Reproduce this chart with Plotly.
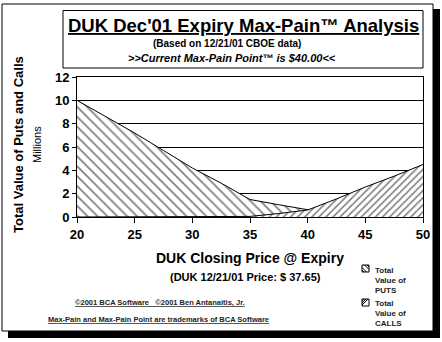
import plotly.graph_objects as go

# ---- data (millions) ----
strikes = [20, 22.5, 25, 27.5, 30, 32.5, 35, 37.5, 40, 42.5, 45, 47.5, 50]
puts_value = [10.0, 8.6, 7.2, 5.7, 4.2, 2.9, 1.5, 1.05, 0.65, 0.2, 0.0, 0.0, 0.0]
calls_value = [0.0, 0.0, 0.0, 0.0, 0.0, 0.0, 0.05, 0.3, 0.6, 1.55, 2.57, 3.5, 4.5]
y_ticks = [0, 2, 4, 6, 8, 10, 12]
x_ticks = [20, 25, 30, 35, 40, 45, 50]

W, H = 442, 342
L, R, T, B = 77, 19, 77, 125
PW, PH = W - L - R, H - T - B

def px(x):
    return (x - L) / PW

def py(y):
    return (H - B - y) / PH

FONT = "Liberation Sans, Arial, sans-serif"

fig = go.Figure()
fig.add_trace(go.Scatter(
    x=strikes, y=puts_value, mode="lines", fill="tozeroy",
    line=dict(color="black", width=1),
    fillpattern=dict(shape="\\", size=7, solidity=0.24, fgcolor="black", bgcolor="white"),
    fillcolor="white", name="Total Value of PUTS", showlegend=False))
fig.add_trace(go.Scatter(
    x=strikes, y=calls_value, mode="lines", fill="tozeroy",
    line=dict(color="black", width=1),
    fillpattern=dict(shape="/", size=5, solidity=0.32, fgcolor="black", bgcolor="white"),
    fillcolor="white", name="Total Value of CALLS", showlegend=False))

shapes = []
# outer frame shadow + border
shapes.append(dict(type="rect", xref="paper", yref="paper", layer="below",
                   x0=px(8), x1=px(440), y0=py(338), y1=py(9),
                   fillcolor="black", line=dict(width=0)))
shapes.append(dict(type="rect", xref="paper", yref="paper", layer="below",
                   x0=px(2), x1=px(433), y0=py(331), y1=py(4),
                   fillcolor="white", line=dict(color="black", width=1)))
# title box
shapes.append(dict(type="rect", xref="paper", yref="paper", layer="below",
                   x0=px(63), x1=px(423), y0=py(68), y1=py(10.5),
                   fillcolor="white", line=dict(color="black", width=1)))

# legend swatches (manual)
def swatch(x0, y0, s, kind):
    shapes.append(dict(type="rect", xref="paper", yref="paper",
                       x0=px(x0), x1=px(x0 + s), y0=py(y0 + s), y1=py(y0),
                       fillcolor="white", line=dict(color="black", width=1)))
    offs = [2.5, 5.0] if kind == "puts" else [2.0, 4.0, 6.0]
    for o in offs:
        if kind == "puts":
            shapes.append(dict(type="line", xref="paper", yref="paper",
                               x0=px(x0 + o), y0=py(y0), x1=px(x0 + s), y1=py(y0 + s - o),
                               line=dict(color="black", width=1)))
            shapes.append(dict(type="line", xref="paper", yref="paper",
                               x0=px(x0), y0=py(y0 + o), x1=px(x0 + s - o), y1=py(y0 + s),
                               line=dict(color="black", width=1)))
        else:
            shapes.append(dict(type="line", xref="paper", yref="paper",
                               x0=px(x0), y0=py(y0 + o), x1=px(x0 + o), y1=py(y0),
                               line=dict(color="black", width=1)))

swatch(362, 265, 7, "puts")
swatch(362, 299, 7, "calls")

ann = []
def text(x, y, s, size, bold=True, italic=False, angle=0, xanchor="center", color="black"):
    t = s
    if italic:
        t = "<i>" + t + "</i>"
    ann.append(dict(xref="paper", yref="paper", x=px(x), y=py(y), text=t,
                    showarrow=False, xanchor=xanchor, yanchor="middle", textangle=angle,
                    font=dict(family=FONT, size=size, color=color,
                              weight="bold" if bold else "normal")))

text(243, 25, "<u>DUK Dec'01 Expiry Max-Pain™ Analysis</u>", 18.5)
text(227, 43.5, "(Based on 12/21/01 CBOE data)", 10)
text(232, 58, ">>Current Max-Pain Point™ is $40.00<<", 11, italic=True)
text(18, 145, "Total Value of Puts and Calls", 13, angle=-90)
text(37, 145, "Millions", 11, bold=False, angle=-90)
text(250, 258, "DUK Closing Price @ Expiry", 14)
text(245, 277, "(DUK 12/21/01 Price: $ 37.65)", 11)
text(160, 302, "<u>©2001 BCA Software   ©2001 Ben Antanaitis, Jr.</u>", 7.5, color="#222")
text(158, 319, "<u>Max-Pain and Max-Pain Point are trademarks of BCA Software</u>", 7.5, color="#222")
for i, line in enumerate(["Total", "Value of", "PUTS"]):
    text(373, 270 + i * 10, line, 8, xanchor="left", color="#222")
for i, line in enumerate(["Total", "Value of", "CALLS"]):
    text(373, 303 + i * 10, line, 8, xanchor="left", color="#222")

fig.update_layout(
    width=W, height=H, autosize=False,
    margin=dict(l=L, r=R, t=T, b=B),
    paper_bgcolor="white", plot_bgcolor="white",
    shapes=shapes, annotations=ann, showlegend=False,
    xaxis=dict(range=[20, 50], tickvals=x_ticks, ticktext=[str(v) for v in x_ticks],
               showgrid=False, zeroline=False, showline=True, linecolor="black", linewidth=1,
               mirror=True, ticks="outside", ticklen=5, tickcolor="black",
               tickfont=dict(family=FONT, size=13, color="black", weight="bold")),
    yaxis=dict(range=[0, 12], tickvals=y_ticks, ticktext=[str(v) for v in y_ticks],
               showgrid=True, gridcolor="black", gridwidth=1, zeroline=False,
               showline=True, linecolor="black", linewidth=1, mirror=True,
               ticks="outside", ticklen=4, tickcolor="black",
               tickfont=dict(family=FONT, size=13, color="black", weight="bold")),
)
fig.write_html("out.html")
